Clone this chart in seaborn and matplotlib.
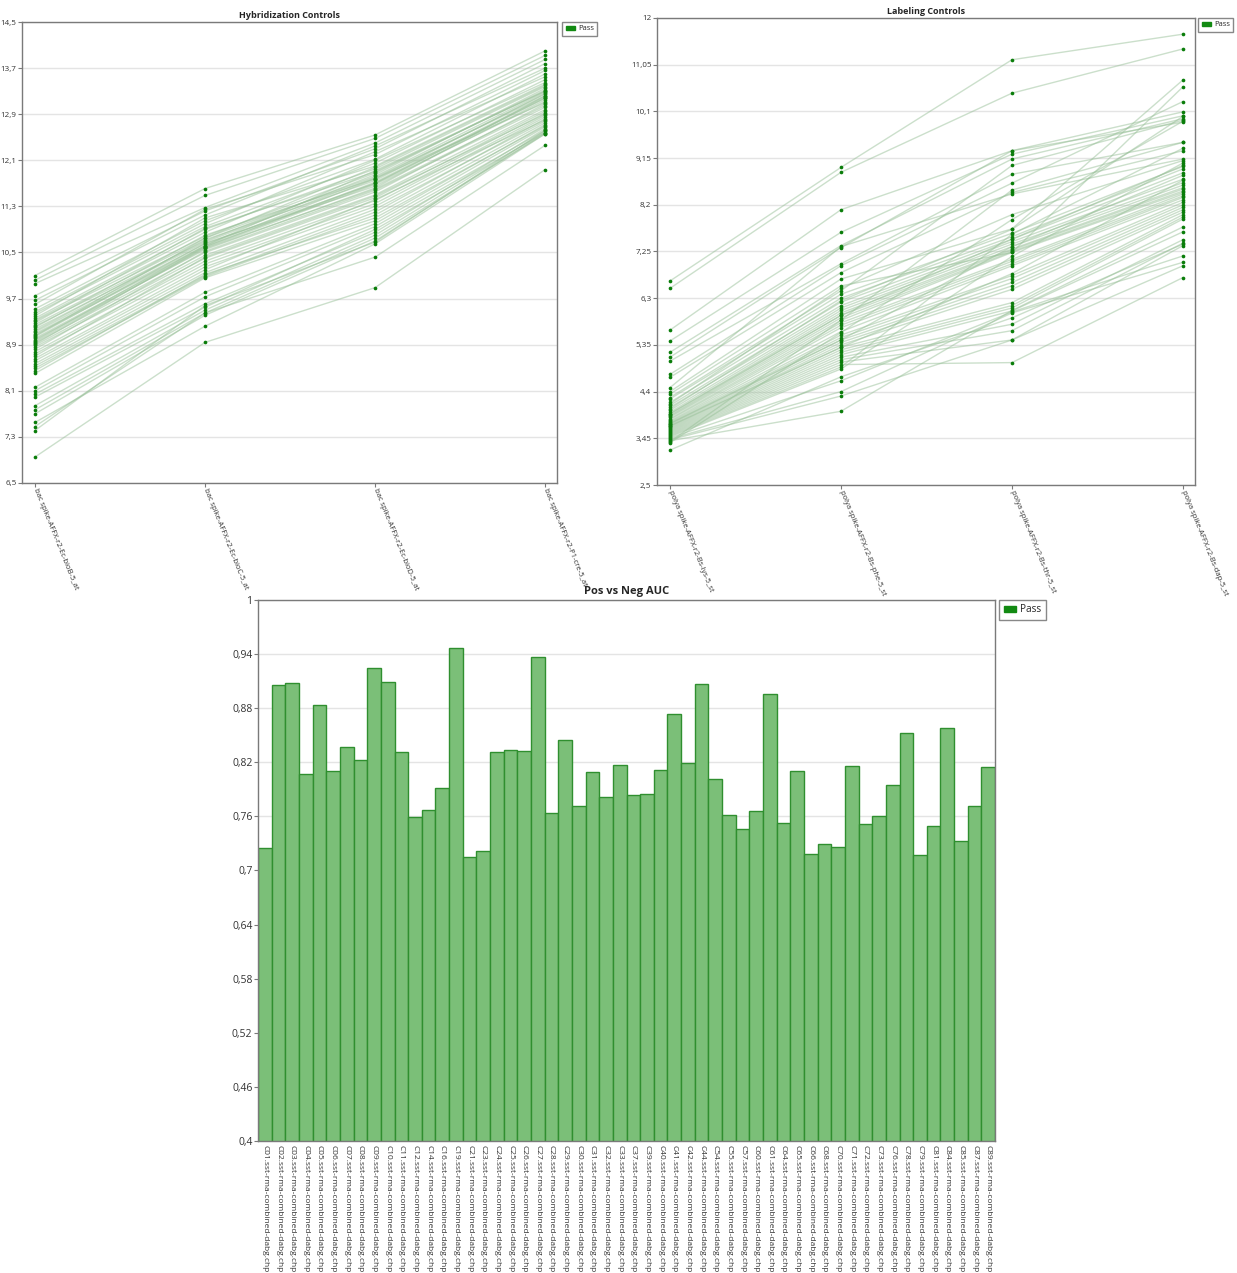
import matplotlib
matplotlib.use("Agg")
import matplotlib.pyplot as plt
from matplotlib.patches import Patch
from matplotlib.ticker import FixedLocator, FixedFormatter
import seaborn as sns
import pandas as pd

# ---------------- data ----------------
samples = ["C01", "C02", "C03", "C04", "C05", "C06", "C07", "C08", "C09", "C10",
           "C11", "C12", "C14", "C16", "C19", "C21", "C23", "C24", "C25", "C26",
           "C27", "C28", "C29", "C30", "C31", "C32", "C33", "C37", "C39", "C40",
           "C41", "C42", "C44", "C54", "C55", "C57", "C60", "C61", "C64", "C65",
           "C66", "C68", "C70", "C71", "C72", "C73", "C76", "C78", "C79", "C81",
           "C84", "C85", "C87", "C89"]
sample_suffix = ".sst-rma-combined-dabg.chp"

auc_values = [0.725, 0.906, 0.908, 0.807, 0.884, 0.810, 0.837, 0.822, 0.925, 0.909,
              0.831, 0.759, 0.767, 0.791, 0.947, 0.715, 0.722, 0.831, 0.834, 0.833,
              0.937, 0.764, 0.845, 0.772, 0.809, 0.782, 0.817, 0.784, 0.785, 0.811,
              0.874, 0.819, 0.907, 0.801, 0.762, 0.746, 0.766, 0.896, 0.753, 0.810,
              0.718, 0.729, 0.726, 0.816, 0.751, 0.760, 0.795, 0.853, 0.717, 0.749,
              0.858, 0.733, 0.772, 0.815]

hyb_probes = ["bac spike-AFFX-r2-Ec-bioB-5_at", "bac spike-AFFX-r2-Ec-bioC-5_at",
              "bac spike-AFFX-r2-Ec-bioD-5_at", "bac spike-AFFX-r2-P1-cre-5_at"]
hyb_bioB = [10.10, 10.02, 9.96, 9.75, 9.67, 9.60, 9.52, 9.47, 9.44, 9.40,
            9.36, 9.33, 9.31, 9.28, 9.25, 9.22, 9.20, 9.17, 9.14, 9.12,
            9.09, 9.07, 9.04, 9.01, 8.99, 8.97, 8.95, 8.93, 8.91, 8.89,
            8.86, 8.82, 8.78, 8.74, 8.70, 8.66, 8.62, 8.57, 8.53, 8.49,
            8.45, 8.40, 8.16, 8.10, 8.04, 7.99, 7.84, 7.77, 7.70, 7.55,
            7.48, 7.41, 6.95, 9.05]
hyb_bioC = [11.61, 11.49, 11.28, 11.22, 11.15, 11.25, 11.05, 11.00, 10.95, 11.10,
            10.90, 10.85, 10.78, 10.92, 10.75, 10.70, 10.80, 10.68, 10.72, 10.65,
            10.62, 10.60, 10.66, 10.58, 10.55, 10.62, 10.57, 10.50, 10.60, 10.45,
            10.40, 10.52, 10.35, 10.30, 10.42, 10.25, 10.20, 10.15, 10.10, 10.08,
            10.12, 10.06, 9.81, 9.73, 9.61, 9.55, 9.50, 9.45, 9.41, 9.22,
            9.45, 9.58, 8.94, 10.75]
hyb_bioD = [12.54, 12.48, 12.40, 12.30, 12.35, 12.20, 12.12, 12.25, 12.05, 12.00,
            11.95, 12.10, 11.88, 11.90, 11.82, 11.85, 11.78, 11.80, 11.75, 11.70,
            11.92, 11.72, 11.65, 11.68, 11.62, 11.78, 11.60, 11.55, 11.70, 11.50,
            11.45, 11.58, 11.40, 11.35, 11.48, 11.30, 11.42, 11.25, 11.20, 11.15,
            11.10, 11.05, 11.00, 10.95, 10.85, 10.90, 10.80, 10.75, 10.70, 10.65,
            10.42, 10.68, 9.89, 11.98]
hyb_cre = [14.00, 13.92, 13.85, 13.78, 13.70, 13.66, 13.60, 13.55, 13.50, 13.42,
           13.38, 13.45, 13.32, 13.30, 13.28, 13.35, 13.25, 13.22, 13.26, 13.18,
           13.30, 13.20, 13.15, 13.12, 13.22, 13.10, 13.05, 13.08, 13.18, 12.98,
           12.95, 13.02, 12.92, 12.88, 12.90, 12.85, 12.80, 12.78, 12.82, 12.75,
           12.70, 12.72, 12.68, 12.62, 12.65, 12.58, 12.60, 12.56, 12.58, 12.56,
           12.36, 12.62, 11.94, 13.40]
hyb_yticks = [6.5, 7.3, 8.1, 8.9, 9.7, 10.5, 11.3, 12.1, 12.9, 13.7, 14.5]

lab_probes = ["polya spike-AFFX-r2-Bs-lys-5_st", "polya spike-AFFX-r2-Bs-phe-5_st",
              "polya spike-AFFX-r2-Bs-thr-5_st", "polya spike-AFFX-r2-Bs-dap-5_st"]
lab_lys = [6.65, 6.50, 5.65, 5.43, 5.20, 5.10, 5.02, 4.75, 4.69, 4.48,
           4.40, 4.35, 4.28, 4.25, 4.18, 4.12, 4.08, 4.02, 3.98, 3.95,
           3.92, 3.90, 3.88, 3.85, 3.83, 3.80, 3.78, 3.76, 3.74, 3.72,
           3.70, 3.68, 3.66, 3.64, 3.62, 3.60, 3.58, 3.56, 3.54, 3.52,
           3.50, 3.48, 3.46, 3.44, 3.42, 3.40, 3.38, 3.36, 3.21, 4.05,
           3.95, 3.75, 3.70, 4.15]
lab_phe = [8.96, 8.86, 8.10, 7.64, 7.37, 7.33, 7.00, 6.96, 6.82, 7.35,
           6.69, 6.55, 6.45, 6.38, 6.30, 6.22, 6.15, 6.10, 6.05, 6.00,
           5.95, 5.90, 5.85, 5.80, 5.75, 5.70, 5.62, 5.55, 5.50, 5.45,
           5.40, 5.35, 5.30, 5.25, 5.20, 5.15, 5.10, 5.05, 5.00, 4.95,
           4.90, 4.86, 4.62, 4.40, 4.31, 4.00, 5.85, 5.60, 4.70, 6.25,
           5.95, 5.45, 5.30, 6.50]
lab_thr = [11.15, 10.47, 9.30, 9.23, 9.13, 9.30, 8.82, 8.64, 8.45, 8.42,
           7.71, 7.23, 9.00, 7.62, 7.55, 7.50, 7.45, 7.40, 7.35, 7.30,
           7.28, 7.25, 7.23, 7.09, 7.05, 7.00, 6.96, 6.76, 6.70, 6.62,
           6.55, 6.48, 6.21, 6.15, 6.10, 6.04, 5.77, 5.64, 5.45, 4.99,
           7.60, 7.15, 6.02, 6.00, 5.45, 6.05, 8.50, 7.90, 5.90, 7.70,
           7.50, 7.35, 6.80, 8.00]
lab_dap = [11.67, 11.37, 10.09, 10.01, 9.95, 9.88, 9.47, 10.30, 9.30, 9.13,
           10.74, 10.60, 9.92, 8.98, 8.93, 8.85, 8.72, 8.65, 8.60, 8.55,
           8.52, 8.48, 8.45, 8.42, 8.38, 8.35, 8.30, 8.25, 8.20, 8.15,
           8.10, 8.05, 8.00, 7.95, 7.91, 7.65, 7.49, 7.42, 7.37, 6.72,
           9.35, 9.05, 7.16, 7.03, 6.96, 7.75, 9.47, 9.90, 7.40, 10.00,
           9.00, 8.80, 8.70, 9.10]
lab_yticks = [2.5, 3.45, 4.4, 5.35, 6.3, 7.25, 8.2, 9.15, 10.1, 11.05, 12]

auc_yticks = [0.4, 0.46, 0.52, 0.58, 0.64, 0.7, 0.76, 0.82, 0.88, 0.94, 1]

# ---------------- style ----------------
sns.set_theme(style="white")
plt.rcParams["font.family"] = ["Open Sans", "DejaVu Sans"]

POINT_GREEN = "#0a7d0a"
LINE_GREEN = "#98c098"
BAR_FILL = "#7bbf78"
BAR_EDGE = "#2f8f2f"
SPINE = "#7a7a7a"
GRID = "#e4e4e4"


def comma(v):
    return f"{v:g}".replace(".", ",")


def style_axes(ax, yticks):
    for s in ax.spines.values():
        s.set_visible(True)
        s.set_color(SPINE)
        s.set_linewidth(1.0)
    ax.set_ylim(yticks[0], yticks[-1])
    ax.yaxis.set_major_locator(FixedLocator(yticks))
    ax.yaxis.set_major_formatter(FixedFormatter([comma(v) for v in yticks]))
    ax.grid(axis="y", color=GRID, linewidth=1.0)
    ax.grid(axis="x", visible=False)
    ax.set_axisbelow(True)
    ax.tick_params(axis="both", which="major", length=3, width=0.8, color=SPINE,
                   labelcolor="#333333", pad=1, left=True, bottom=True)
    ax.set_xlabel("")
    ax.set_ylabel("")


def add_legend(ax, fontsize, anchor):
    handle = Patch(facecolor="#128a12", edgecolor="#128a12", label="Pass")
    leg = ax.legend(handles=[handle], loc="upper left", bbox_to_anchor=anchor,
                    frameon=True, fancybox=False, fontsize=fontsize,
                    handlelength=1.2, handleheight=0.45, handletextpad=0.4,
                    borderpad=0.45, borderaxespad=0)
    leg.get_frame().set_edgecolor("#6a6a6a")
    leg.get_frame().set_linewidth(1.0)


def control_panel(ax, probes, columns, yticks, title):
    rows = []
    for i, name in enumerate(samples):
        for j, col in enumerate(columns):
            rows.append({"sample": name, "probe": j, "value": col[i]})
    df = pd.DataFrame(rows)
    sns.lineplot(data=df, x="probe", y="value", units="sample", estimator=None,
                 color=LINE_GREEN, alpha=0.5, linewidth=1.0, ax=ax, legend=False)
    sns.scatterplot(data=df, x="probe", y="value", color=POINT_GREEN, marker="o",
                    s=7, linewidth=0, ax=ax, legend=False, zorder=3)
    style_axes(ax, yticks)
    ax.set_xlim(-0.076, 3.07)
    ax.set_xticks(range(len(probes)))
    ax.set_xticklabels(probes, rotation=-68, ha="left", va="center",
                       rotation_mode="anchor", fontsize=5.5)
    ax.tick_params(axis="y", labelsize=5.8)
    ax.set_title(title, fontsize=6.5, fontweight="bold", pad=3)


fig = plt.figure(figsize=(12.37, 12.73), dpi=100)
fig.patch.set_facecolor("white")

# Hybridization controls
ax1 = fig.add_axes([0.0178, 0.6206, 0.4325, 0.3621])
control_panel(ax1, hyb_probes, [hyb_bioB, hyb_bioC, hyb_bioD, hyb_cre],
              hyb_yticks, "Hybridization Controls")
add_legend(ax1, 5.5, (1.01, 1.0))

# Labeling controls
ax2 = fig.add_axes([0.5311, 0.6190, 0.4349, 0.3669])
control_panel(ax2, lab_probes, [lab_lys, lab_phe, lab_thr, lab_dap],
              lab_yticks, "Labeling Controls")
add_legend(ax2, 5.5, (1.006, 1.0))

# Pos vs Neg AUC
ax3 = fig.add_axes([0.2086, 0.1037, 0.5958, 0.4250])
bar_df = pd.DataFrame({"sample": [s + sample_suffix for s in samples],
                       "auc": auc_values})
sns.barplot(data=bar_df, x="sample", y="auc", color=BAR_FILL, saturation=1,
            width=1.0, edgecolor=BAR_EDGE, linewidth=1.0, ax=ax3)
style_axes(ax3, auc_yticks)
ax3.set_xlim(-0.5, len(samples) - 0.5)
ax3.tick_params(axis="x", labelrotation=-90, labelsize=6.0, length=0, pad=3)
ax3.tick_params(axis="y", labelsize=7.5, length=3)
for lbl in ax3.get_xticklabels():
    lbl.set_va("top")
    lbl.set_ha("center")
ax3.set_title("Pos vs Neg AUC", fontsize=8, fontweight="bold", pad=4)
add_legend(ax3, 7.2, (1.006, 1.0))

fig.savefig("out.png", dpi=100, facecolor="white")
